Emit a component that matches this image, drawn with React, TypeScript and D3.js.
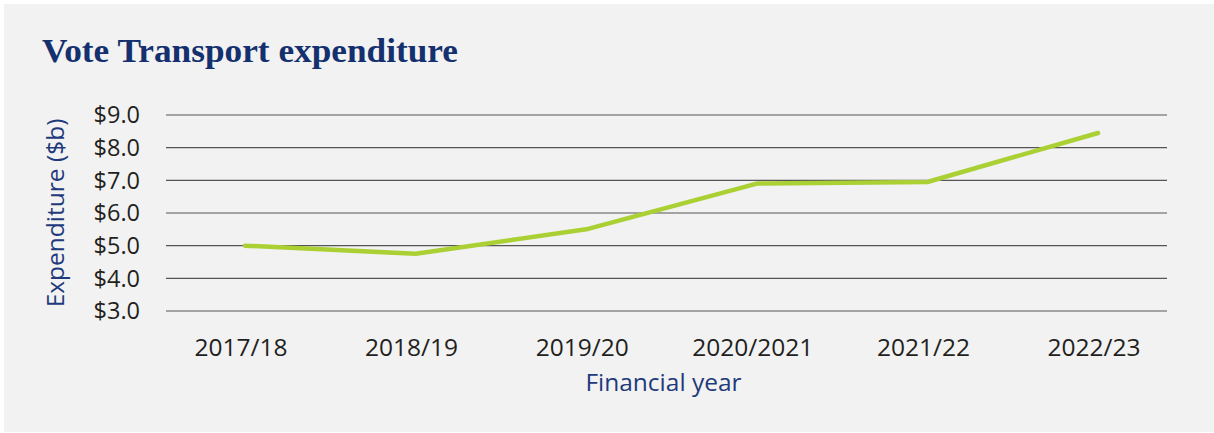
import React from 'react';
import * as d3 from 'd3';

const years = ['2017/18', '2018/19', '2019/20', '2020/2021', '2021/22', '2022/23'];
const expenditure = [5.0, 4.75, 5.5, 6.9, 6.95, 8.45];
const yTicks = [3, 4, 5, 6, 7, 8, 9];

const W = 1214;
const H = 433;
const plot = { left: 166, right: 1167, top: 115, bottom: 311 };

const App: React.FC = () => {
	const x = d3
		.scalePoint<string>()
		.domain(years)
		.range([plot.left + 79, plot.right - 69]);
	const y = d3.scaleLinear().domain([3, 9]).range([plot.bottom, plot.top]);

	const line = d3
		.line<number>()
		.x((_, i) => x(years[i]) as number)
		.y((d) => y(d));

	return (
		<div style={{ position: 'absolute', left: 0, top: 0 }}>
			<svg width={W} height={H} style={{ display: 'block' }}>
				<rect x={4} y={4} width={W - 4} height={H - 5} fill="#f2f2f2" />
				<text
					x={42}
					y={62}
					fontFamily="'Liberation Serif', 'DejaVu Serif', serif"
					fontWeight="bold"
					fontSize={33}
					fill="#14306e"
					textLength={416}
					lengthAdjust="spacingAndGlyphs">
					Vote Transport expenditure
				</text>
				{/* gridlines + y ticks */}
				{yTicks.map((t) => (
					<g key={t}>
						<line
							x1={plot.left}
							x2={plot.right}
							y1={y(t)}
							y2={y(t)}
							stroke="#555"
							strokeWidth={1.2}
						/>
						<text
							x={140}
							y={y(t)}
							dy="0.35em"
							textAnchor="end"
							fontFamily="'Open Sans', sans-serif"
							fontSize={23.5}
							fill="#231f20">
							{`$${t.toFixed(1)}`}
						</text>
					</g>
				))}
				{/* x ticks */}
				{years.map((yr) => (
					<text
						key={yr}
						x={(x(yr) as number) - 4}
						y={356}
						textAnchor="middle"
						fontFamily="'Open Sans', sans-serif"
						fontSize={24.5}
						fill="#231f20">
						{yr}
					</text>
				))}
				<path
					d={line(expenditure) ?? ''}
					fill="none"
					stroke="#abd034"
					strokeWidth={4.5}
					strokeLinecap="round"
					strokeLinejoin="round"
				/>
				<text
					x={(plot.left + plot.right) / 2 - 3}
					y={391}
					textAnchor="middle"
					fontFamily="'Open Sans', sans-serif"
					fontSize={24.5}
					fill="#1f3a7c">
					Financial year
				</text>
				<text
					transform={`translate(64,${(plot.top + plot.bottom) / 2}) rotate(-90)`}
					textAnchor="middle"
					fontFamily="'Open Sans', sans-serif"
					fontSize={24.5}
					fill="#1f3a7c">
					Expenditure ($b)
				</text>
			</svg>
		</div>
	);
};

export default App;
